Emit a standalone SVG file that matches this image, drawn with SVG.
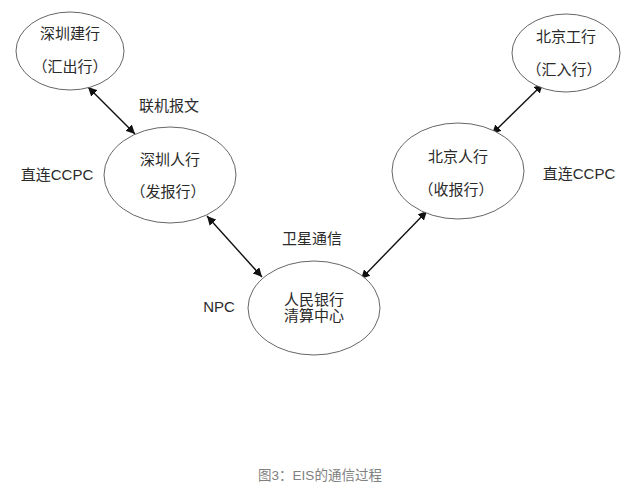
<svg xmlns="http://www.w3.org/2000/svg" width="636" height="491" viewBox="0 0 636 491">
<defs>
<marker id="ah" viewBox="0 0 10 10" refX="10" refY="5" markerWidth="9" markerHeight="9" markerUnits="userSpaceOnUse" orient="auto-start-reverse">
<path d="M0,0 L10,5 L0,10 z" fill="#111"/>
</marker>
<style>
.n{fill:#fff;stroke:#666;stroke-width:1}
.t{font-family:"Liberation Sans","Noto Sans CJK SC",sans-serif;font-size:15px;fill:#2a2a2a;text-anchor:middle}
.c{stroke:#111;stroke-width:1.4;fill:none;marker-start:url(#ah);marker-end:url(#ah)}
.cap{font-family:"Liberation Sans","Noto Sans CJK SC",sans-serif;font-size:13.5px;fill:#808080;text-anchor:middle}
</style>
</defs>
<rect width="636" height="491" fill="#fff"/>
<g id="connectors">
<line class="c" x1="88" y1="87" x2="135" y2="134"/>
<line class="c" x1="207" y1="216" x2="262" y2="277"/>
<line class="c" x1="361" y1="279" x2="427" y2="211"/>
<line class="c" x1="492" y1="134" x2="543" y2="84"/>
</g>
<g id="n1">
<ellipse class="n" cx="70" cy="51" rx="54" ry="39"/>
<text class="t" x="70" y="39">深圳建行</text>
<text class="t" x="70" y="72">（汇出行）</text>
</g>
<g id="n2">
<ellipse class="n" cx="170" cy="175" rx="66" ry="48"/>
<text class="t" x="170" y="165">深圳人行</text>
<text class="t" x="168" y="197">（发报行）</text>
</g>
<g id="n3">
<ellipse class="n" cx="566" cy="53" rx="54" ry="39"/>
<text class="t" x="566" y="42">北京工行</text>
<text class="t" x="564" y="75">（汇入行）</text>
</g>
<g id="n4">
<ellipse class="n" cx="458" cy="171" rx="66" ry="48"/>
<text class="t" x="458" y="162">北京人行</text>
<text class="t" x="456" y="195">（收报行）</text>
</g>
<g id="n5">
<ellipse class="n" cx="314" cy="308" rx="66" ry="47"/>
<text class="t" x="314" y="305">人民银行</text>
<text class="t" x="314" y="321">清算中心</text>
</g>
<g id="labels">
<text class="t" x="169" y="111">联机报文</text>
<text class="t" x="57" y="180">直连CCPC</text>
<text class="t" x="579" y="179">直连CCPC</text>
<text class="t" x="312" y="244">卫星通信</text>
<text class="t" x="219" y="312">NPC</text>
<text class="cap" x="320" y="480">图3：EIS的通信过程</text>
</g>
</svg>
